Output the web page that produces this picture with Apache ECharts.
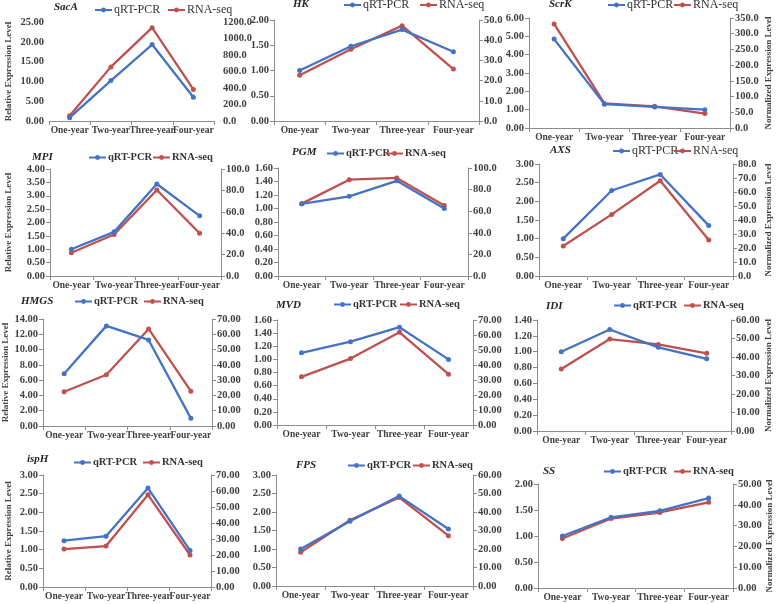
<!DOCTYPE html>
<html>
<head>
<meta charset="utf-8">
<script src="https://cdn.jsdelivr.net/npm/echarts@6/dist/echarts.min.js"></script>
<style>html,body{margin:0;padding:0;background:#fff}#c{width:777px;height:604px}</style>
</head>
<body>
<div id="c"></div>
<script>
// ---------- data ----------
const categories = ["One-year", "Two-year", "Three-year", "Four-year"];
const geneNames = ["SacA", "HK", "ScrK", "MPI", "PGM", "AXS", "HMGS", "MVD", "IDI", "ispH", "FPS", "SS"];

const qSacA = [0.85, 10.2, 19.3, 6.0];     const rSacA = [64, 656, 1131, 383];
const qHK   = [1.00, 1.48, 1.81, 1.37];    const rHK   = [22.6, 35.5, 47.2, 25.7];
const qScrK = [4.85, 1.30, 1.15, 1.00];    const rScrK = [331, 78, 69, 46];
const qMPI  = [1.00, 1.65, 3.44, 2.25];    const rMPI  = [21.7, 38.8, 80.4, 40.0];
const qPGM  = [1.07, 1.18, 1.41, 1.00];    const rPGM  = [67.0, 89.2, 90.8, 65.2];
const qAXS  = [1.00, 2.29, 2.72, 1.35];    const rAXS  = [21.4, 44.0, 68.0, 25.7];
const qHMGS = [6.83, 13.1, 11.26, 1.00];   const rHMGS = [22.4, 33.5, 63.5, 22.8];
const qMVD  = [1.10, 1.27, 1.49, 1.00];    const rMVD  = [32.1, 44.3, 61.8, 33.9];
const qIDI  = [1.00, 1.28, 1.055, 0.91];   const rIDI  = [33.5, 49.7, 46.8, 42.0];
const qispH = [1.24, 1.36, 2.65, 0.98];    const rispH = [23.7, 25.6, 57.6, 20.0];
const qFPS  = [1.00, 1.75, 2.43, 1.54];    const rFPS  = [18.2, 35.5, 47.9, 27.2];
const qSS   = [1.00, 1.36, 1.485, 1.73];   const rSS   = [23.8, 33.4, 36.3, 41.2];

const qValues = [qSacA, qHK, qScrK, qMPI, qPGM, qAXS, qHMGS, qMVD, qIDI, qispH, qFPS, qSS];
const rValues = [rSacA, rHK, rScrK, rMPI, rPGM, rAXS, rHMGS, rMVD, rIDI, rispH, rFPS, rSS];

// axis scales (tick labels)
const leftMax   = [25, 2, 6, 4, 1.6, 3, 14, 1.6, 1.4, 3, 3, 2];
const leftStep  = [5, 0.5, 1, 0.5, 0.2, 0.5, 2, 0.2, 0.2, 0.5, 0.5, 0.5];
const rightMax  = [1200, 50, 350, 100, 100, 80, 70, 70, 60, 70, 60, 50];
const rightStep = [200, 10, 50, 20, 20, 10, 10, 10, 10, 10, 10, 10];
const rightDec  = [1, 1, 1, 1, 1, 1, 2, 2, 2, 2, 2, 2];

const seriesNames = ["qRT-PCR", "RNA-seq"];
const leftAxisTitle = "Relative Expression Level";
const rightAxisTitle = "Normalized Expression Level";

// ---------- layout ----------
// [x1, x2, y1, y2]
const gridBox = [
  [49, 214, 22, 121], [274, 479, 20, 121], [529, 730, 18, 128],
  [50, 221, 169, 276], [278, 468, 168, 276], [539, 733, 164, 276],
  [43, 212, 319, 426], [277, 473, 320, 425], [537, 731, 320, 431],
  [43, 211, 475, 587], [276, 473, 475, 586], [538, 733, 484, 588]
];
// title [left, centerY]
const titlePos = [[54, 9], [293, 6], [549, 6], [32, 159], [292, 154], [550, 152],
                  [21, 303], [276, 307], [546, 308], [27, 461], [296, 467], [543, 473]];
// legend [qLeft, rLeft, centerY]
const legendPos = [[94, 167, 11], [343, 419, 6], [607, 673, 6], [88, 152, 159],
                   [326, 385, 155], [612, 673, 152], [74, 143, 303], [333, 399, 306],
                   [613, 683, 307], [73, 142, 464], [347, 412, 467], [603, 673, 473]];
const legendBold = [false, false, false, true, true, false, true, true, true, true, true, true];
const leftNameGap = {0: 36, 3: 37, 6: 30, 9: 30};
const rightNameGap = {2: 34, 5: 31, 8: 33, 11: 31};

const FONT = "'Liberation Serif', 'Times New Roman', serif";
const AXIS_COLOR = "#8c8c8c";
const LABEL_COLOR = "#404040";
const BLUE = "#4472C4";
const RED = "#C0504D";

const grids = [], xAxes = [], yAxes = [], series = [], titles = [], legends = [];

for (let i = 0; i < 12; i++) {
  const [x1, x2, y1, y2] = gridBox[i];
  grids.push({ left: x1, top: y1, width: x2 - x1, height: y2 - y1 });

  xAxes.push({
    type: "category", gridIndex: i, data: categories, boundaryGap: true,
    axisLine: { show: true, lineStyle: { color: AXIS_COLOR, width: 1 } },
    axisTick: { show: true, length: 4, lineStyle: { color: AXIS_COLOR } },
    axisLabel: { fontFamily: FONT, fontSize: 9.5, fontWeight: "bold", color: LABEL_COLOR, margin: 5, interval: 0 },
    splitLine: { show: false }
  });

  const hideV = (i === 0);
  const left = {
    type: "value", gridIndex: i, position: "left", min: 0, max: leftMax[i], interval: leftStep[i],
    axisLine: { show: !hideV, lineStyle: { color: AXIS_COLOR } },
    axisTick: { show: !hideV, length: 4, lineStyle: { color: AXIS_COLOR } },
    splitLine: { show: false },
    axisLabel: { fontFamily: FONT, fontSize: 10.5, fontWeight: "bold", color: LABEL_COLOR, margin: 5,
                 formatter: v => v.toFixed(2) }
  };
  if (leftNameGap[i] !== undefined) {
    Object.assign(left, { name: leftAxisTitle, nameLocation: "middle", nameRotate: 90, nameGap: leftNameGap[i],
      nameTextStyle: { fontFamily: FONT, fontSize: 9, fontWeight: "bold", color: LABEL_COLOR } });
  }
  const dec = rightDec[i];
  const right = {
    type: "value", gridIndex: i, position: "right", min: 0, max: rightMax[i], interval: rightStep[i],
    axisLine: { show: !hideV, lineStyle: { color: AXIS_COLOR } },
    axisTick: { show: !hideV, length: 4, lineStyle: { color: AXIS_COLOR } },
    splitLine: { show: false },
    axisLabel: { fontFamily: FONT, fontSize: 10.5, fontWeight: "bold", color: LABEL_COLOR, margin: hideV ? 9 : 5,
                 formatter: v => v.toFixed(dec) }
  };
  if (rightNameGap[i] !== undefined) {
    Object.assign(right, { name: rightAxisTitle, nameLocation: "middle", nameRotate: 90, nameGap: rightNameGap[i],
      nameTextStyle: { fontFamily: FONT, fontSize: 9, fontWeight: "bold", color: LABEL_COLOR } });
  }
  yAxes.push(left, right);

  series.push({
    name: seriesNames[0], type: "line", xAxisIndex: i, yAxisIndex: 2 * i, data: qValues[i],
    symbol: "circle", symbolSize: 5, itemStyle: { color: BLUE }, lineStyle: { color: BLUE, width: 2.3 },
    animation: false, z: 3
  });
  series.push({
    name: seriesNames[1], type: "line", xAxisIndex: i, yAxisIndex: 2 * i + 1, data: rValues[i],
    symbol: "circle", symbolSize: 5, itemStyle: { color: RED }, lineStyle: { color: RED, width: 2.3 },
    animation: false, z: 2
  });

  titles.push({
    text: geneNames[i], left: titlePos[i][0], top: titlePos[i][1] - 7, padding: 0,
    textStyle: { fontFamily: FONT, fontSize: 11, fontStyle: "italic", fontWeight: "bold", color: "#262626" }
  });

  const lp = legendPos[i];
  [0, 1].forEach(k => {
    legends.push({
      data: [seriesNames[k]], left: lp[k], top: lp[2] - 7, padding: 0,
      itemWidth: 17, itemHeight: 6, itemGap: 0, selectedMode: false,
      textStyle: { fontFamily: FONT, fontSize: legendBold[i] ? 10.5 : 12, fontWeight: legendBold[i] ? "bold" : "normal", color: "#333333", padding: [0, 0, 0, -3] }
    });
  });
}

const chart = echarts.init(document.getElementById("c"), null, { renderer: "canvas" });
chart.setOption({
  backgroundColor: "#ffffff",
  animation: false,
  textStyle: { fontFamily: FONT },
  title: titles,
  legend: legends,
  grid: grids,
  xAxis: xAxes,
  yAxis: yAxes,
  series: series
});
</script>
</body>
</html>
